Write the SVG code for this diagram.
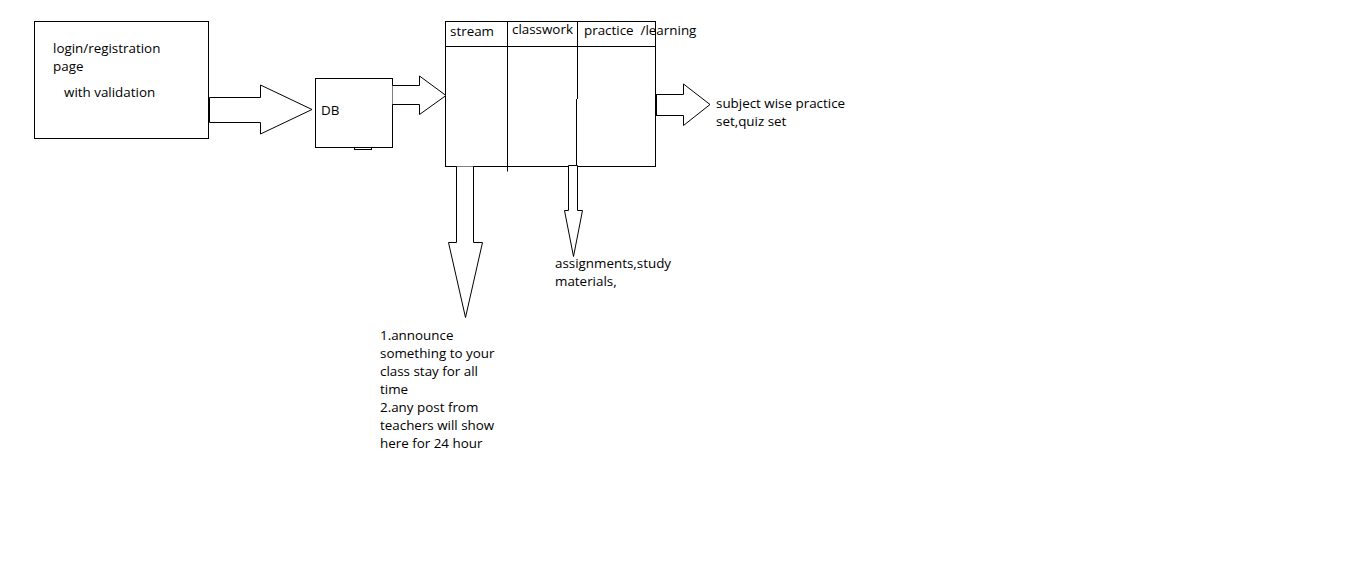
<svg xmlns="http://www.w3.org/2000/svg" width="1355" height="566" viewBox="0 0 1355 566">
<style>
.s{fill:none;stroke:#000;stroke-width:1}
.w{fill:#fff;stroke:#000;stroke-width:1}
text{font-family:"Open Sans","Liberation Sans",sans-serif;font-size:13.4px;fill:#000;white-space:pre}
</style>
<rect width="1355" height="566" fill="#fff"/>
<g id="login">
<rect class="w" x="34.5" y="21.5" width="174" height="117"/>
<text x="53" y="53">login/registration</text>
<text x="53" y="71">page</text>
<text x="64" y="97">with validation</text>
</g>
<g id="db">
<rect class="w" x="315.5" y="78.5" width="77" height="69"/>
<rect class="s" x="354.5" y="147.5" width="17" height="2"/>
<text x="321" y="115">DB</text>
</g>
<g id="main">
<rect class="w" x="445.5" y="21.5" width="210" height="145"/>
<line class="s" x1="445.5" y1="46.5" x2="655.5" y2="46.5"/>
<line class="s" x1="507.5" y1="21.5" x2="507.5" y2="171.5"/>
<line class="s" x1="577.5" y1="21.5" x2="577.5" y2="99"/>
<line class="s" x1="576.5" y1="99" x2="576.5" y2="166"/>
<text x="450" y="36">stream</text>
<text x="512" y="34">classwork</text>
<text x="584" y="35" xml:space="preserve">practice  /learning</text>
</g>
<g id="practice-out">
<text x="716" y="108">subject wise practice</text>
<text x="716" y="126">set,quiz set</text>
</g>
<g id="classwork-out">
<text x="555" y="268">assignments,study</text>
<text x="555" y="286">materials,</text>
</g>
<g id="stream-out">
<text x="380" y="340">1.announce</text>
<text x="380" y="358">something to your</text>
<text x="380" y="376">class stay for all</text>
<text x="380" y="394">time</text>
<text x="380" y="412">2.any post from</text>
<text x="380" y="430">teachers will show</text>
<text x="380" y="448">here for 24 hour</text>
</g>
<g id="connectors">
<path class="w" d="M209.5,97.5 L260.5,97.5 L260.5,85 L312,109.5 L260.5,134 L260.5,122.5 L209.5,122.5"/>
<line x1="209" y1="97.5" x2="209" y2="122.5" stroke="#000" stroke-width="2"/>
<path class="w" d="M392.5,85.5 L419.5,85.5 L419.5,76 L446,95.5 L419.5,114.5 L419.5,104.5 L392.5,104.5"/>
<path class="w" d="M655.5,94.5 L683.5,94.5 L683.5,84 L710,104.5 L683.5,125.5 L683.5,115.5 L655.5,115.5"/>
<line x1="656" y1="94.5" x2="656" y2="115.5" stroke="#000" stroke-width="2"/>
<path class="w" d="M456.5,166.5 L456.5,242.5 L448.5,242.5 L465.5,317.5 L482.5,242.5 L473.5,242.5 L473.5,166.5"/>
<path class="w" d="M568.5,165.5 L568.5,210.5 L564.5,210.5 L573.5,256.5 L582.5,210.5 L577.5,210.5 L577.5,165.5 Z"/>
</g>
</svg>
